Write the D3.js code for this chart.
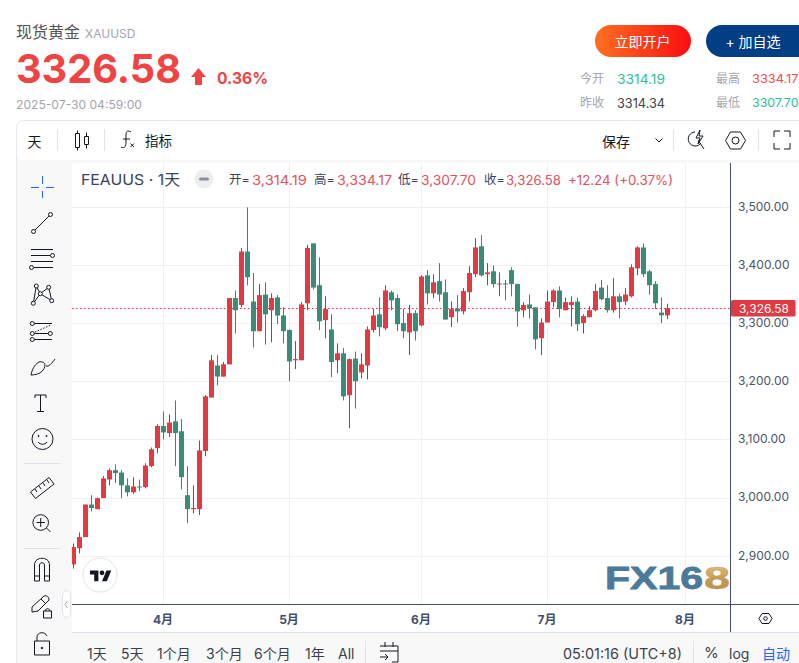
<!DOCTYPE html>
<html><head><meta charset="utf-8">
<script src="https://cdn.jsdelivr.net/npm/d3@7/dist/d3.min.js"></script>
<style>html,body{margin:0;padding:0;background:#fff;overflow:hidden}svg{display:block}text{font-family:Inter,"Noto Sans CJK SC",sans-serif}</style>
</head><body><svg id="c" width="799" height="663"></svg>
<script>
const opens=[2886,2914,2933,2989,2981,3000,3032,3048,3044,3022,3010,3020,3019,3055,3086,3124,3112,3132,3115,3005,2981,2981,3081,3173,3228,3209,3230,3344,3332,3424,3338,3287,3350,3323,3345,3314,3289,3237,3237,3335,3438,3366,3306,3290,3237,3249,3177,3240,3216,3228,3289,3316,3292,3354,3344,3301,3285,3318,3297,3383,3352,3373,3354,3311,3326,3321,3354,3385,3433,3385,3390,3368,3369,3392,3368,3323,3333,3328,3275,3302,3337,3357,3323,3332,3338,3301,3311,3323,3362,3344,3323,3347,3338,3347,3395,3431,3390,3368,3319,3314.19];
const highs=[2922,2941,2989,3005,3001,3038,3051,3058,3048,3034,3036,3032,3060,3087,3127,3149,3144,3168,3136,3055,3022,3099,3177,3246,3246,3234,3344,3357,3430,3500,3387,3368,3371,3352,3349,3328,3290,3270,3337,3435,3438,3414,3347,3316,3266,3258,3240,3252,3249,3295,3325,3345,3366,3357,3350,3325,3332,3323,3383,3392,3385,3404,3376,3338,3349,3361,3399,3447,3452,3404,3400,3388,3375,3397,3369,3337,3350,3328,3309,3357,3359,3364,3345,3347,3345,3316,3330,3368,3375,3366,3378,3352,3361,3402,3433,3438,3393,3373,3345,3334.17];
const lows=[2879,2905,2933,2977,2981,3000,3022,3026,3000,3003,3007,3012,3017,3053,3077,3101,3105,3055,3015,2957,2974,2971,3072,3173,3194,3209,3230,3283,3328,3366,3259,3287,3264,3268,3299,3266,3201,3222,3237,3323,3359,3289,3275,3208,3215,3168,3120,3154,3206,3204,3285,3278,3289,3323,3287,3275,3246,3271,3295,3333,3344,3338,3307,3294,3302,3316,3338,3380,3381,3366,3362,3347,3340,3347,3295,3311,3309,3256,3246,3302,3328,3311,3323,3295,3287,3283,3311,3321,3340,3319,3319,3309,3332,3345,3383,3380,3350,3325,3301,3307.70];
const closes=[2916,2933,2989,2983,3000,3034,3048,3043,3022,3010,3020,3019,3056,3084,3124,3113,3130,3112,3036,2981,2983,3082,3175,3237,3209,3230,3344,3323,3424,3380,3287,3349,3316,3344,3314,3287,3235,3239,3333,3430,3362,3304,3325,3234,3249,3175,3239,3201,3230,3290,3314,3294,3357,3340,3299,3287,3318,3287,3381,3352,3371,3350,3307,3325,3321,3356,3387,3431,3383,3388,3368,3369,3368,3368,3321,3332,3326,3273,3302,3338,3357,3325,3337,3337,3299,3313,3323,3356,3342,3323,3347,3337,3350,3397,3431,3385,3366,3335,3314.34,3326.58];
const monthTickIndex=[15,36,58,79,102];
const monthLabels=["4月","5月","6月","7月","8月"];
const priceTicks=[2900,3000,3100,3200,3300,3400,3500];
const lastPrice=3326.58;

const svg=d3.select("#c");
const RED="#e03b45",GREEN="#3a8c78",RW="#9f3b4e",GW="#4a8062",GRID="#f0f0f2",AX="#434e6b",PANEL="#f8f8f8";
const x=d3.scaleLinear().domain([0,102]).range([73.5,685.5]);
const y=d3.scaleLinear().domain([2900,3500]).range([556.3,207.3]);
function T(px,py,s,o={}){const t=svg.append("text").attr("x",px).attr("y",py).text(s)
 .attr("font-size",o.size||12).attr("fill",o.fill||"#333").attr("dominant-baseline","central");
 if(o.weight)t.attr("font-weight",o.weight);if(o.anchor)t.attr("text-anchor",o.anchor);
 if(o.len)t.attr("textLength",o.len).attr("lengthAdjust","spacingAndGlyphs");if(o.font)t.style("font-family",o.font);return t;}
function L(x1,y1,x2,y2,c,w){return svg.append("line").attr("x1",x1).attr("y1",y1).attr("x2",x2).attr("y2",y2).attr("stroke",c||"#131722").attr("stroke-width",w||1);}
function P(d,o={}){return svg.append("path").attr("d",d).attr("fill",o.fill||"none").attr("stroke",o.stroke===undefined?"#131722":o.stroke).attr("stroke-width",o.w||1);}
function C(cx,cy,r,o={}){return svg.append("circle").attr("cx",cx).attr("cy",cy).attr("r",r).attr("fill",o.fill||PANEL).attr("stroke",o.stroke||"#131722").attr("stroke-width",o.w||1);}
function R(a,b,w,h,f,r,s){const e=svg.append("rect").attr("x",a).attr("y",b).attr("width",w).attr("height",h).attr("fill",f);if(r)e.attr("rx",r);if(s)e.attr("stroke",s);return e;}

// gradients
const defs=svg.append("defs");
const g1=defs.append("linearGradient").attr("id","btn");g1.append("stop").attr("offset",0).attr("stop-color","#ff7020");g1.append("stop").attr("offset",1).attr("stop-color","#fb0d12");
const g2=defs.append("linearGradient").attr("id","gold").attr("x1",0).attr("y1",0).attr("x2",0).attr("y2",1);g2.append("stop").attr("offset",0).attr("stop-color","#e8cf9a");g2.append("stop").attr("offset",.55).attr("stop-color","#c39a55");g2.append("stop").attr("offset",1).attr("stop-color","#b98f45");
defs.append("clipPath").attr("id","plot").append("rect").attr("x",72).attr("y",163).attr("width",658).attr("height",441);

// header
T(16,32,"现货黄金",{size:16,fill:"#555"});
T(85,33,"XAUUSD",{size:12,fill:"#a4a4ac"});
T(16,68.5,"3326.58",{size:40,weight:700,fill:"#ee4444",len:165});
P("M198.5 68 L206 77 L202 77 L202 85 L195 85 L195 77 L191 77 Z",{fill:"#ee4444",stroke:"none"});
T(217,78,"0.36%",{size:16,weight:700,fill:"#ee4444",len:51});
T(16,104,"2025-07-30 04:59:00",{size:12,fill:"#a4a4ac",len:126});
R(595,25,96,32,"url(#btn)",16);T(642.5,41,"立即开户",{size:14,fill:"#fff",anchor:"middle"});
R(706,25,110,32,"#023e84",16);T(753,41,"+ 加自选",{size:14,fill:"#fff",anchor:"middle"});
T(580,78.5,"今开",{fill:"#a4a4ac"});T(617,78.5,"3314.19",{size:13,fill:"#2fbf97",len:48});
T(716,78.5,"最高",{fill:"#a4a4ac"});T(752,78.5,"3334.17",{size:12,fill:"#ee4e4e",len:46.5});
T(580,102.5,"昨收",{fill:"#a4a4ac"});T(617,102.5,"3314.34",{size:13,fill:"#444",len:48});
T(716,102.5,"最低",{fill:"#a4a4ac"});T(752,102.5,"3307.70",{size:12,fill:"#2fbf97",len:46.5});

// card
R(16.5,120.5,800,560,PANEL,7,"#e8e8ea");
R(17,121,800,39,"#fff",7);
R(72,163,658,441,"#fff",4);R(730,163,70,469,"#fff");R(72,604,658,28,"#fff");R(17,632,800,31,PANEL);

// top toolbar
T(34.5,141,"天",{size:14,fill:"#131722",anchor:"middle"});
[57.5,104.5,673.5,758.5].forEach(v=>L(v,129,v,151,"#e0e3eb"));
P("M75.5 133.5h4v14h-4zM77.5 130.5v3M77.5 147.5v3M84.5 136.5h4v8h-4zM86.5 132.5v4M86.5 144.5v4");
P("M121 147c4 2 5-1 5-5v-7c0-4 2-5 5-3M123 139h7M130.5 143.5l3.5 3.5m0-3.5l-3.5 3.5");
T(145,141,"指标",{size:13.5,fill:"#131722"});
T(602,141,"保存",{size:14,fill:"#131722"});
P("M655.5 138.5l3.5 3.5 3.5-3.5");
P("M695 132a7 7 0 1 0 6 11M698 140l6 9M700 130l-4 8h4l-2 6 5-8h-4z");
P("M725.5 140.5l5-8.5h10l5 8.5-5 8.5h-10z");C(735.5,140.5,3.5,{fill:"#fff"});
P("M774 137v-6h6M784 131h6v6M790 143v6h-6M780 149h-6v-6");

// plot
const gx=svg.append("g").attr("transform","translate(0,604.5)").call(d3.axisBottom(x).tickValues(monthTickIndex).tickFormat((d,i)=>monthLabels[i]).tickSize(0).tickPadding(9));
gx.select(".domain").remove();
gx.selectAll("text").attr("font-size",12).attr("font-weight",700).attr("fill","#434e6b").attr("dy","0.85em").attr("dx",-1);
const gridG=svg.append("g").attr("clip-path","url(#plot)");
gridG.selectAll("line.h").data(priceTicks).join("line").attr("class","h").attr("x1",72).attr("x2",730)
 .attr("y1",d=>Math.floor(y(d))+.5).attr("y2",d=>Math.floor(y(d))+.5).attr("stroke",GRID);
gridG.selectAll("line.v").data(monthTickIndex).join("line").attr("class","v").attr("y1",163).attr("y2",604)
 .attr("x1",d=>Math.floor(x(d))+.5).attr("x2",d=>Math.floor(x(d))+.5).attr("stroke",GRID);
L(72,Math.floor(y(lastPrice))+.5,730,Math.floor(y(lastPrice))+.5,"#e8303f",1).attr("stroke-dasharray","1.5 2.5");
const idx=d3.range(closes.length);
const cg=svg.append("g").attr("clip-path","url(#plot)");
const colr=i=>closes[i]>=opens[i]?RED:GREEN,wick=i=>closes[i]>=opens[i]?RW:GW;
cg.selectAll("line.w").data(idx).join("line").attr("class","w")
 .attr("x1",i=>Math.floor(x(i))+.5).attr("x2",i=>Math.floor(x(i))+.5)
 .attr("y1",i=>y(highs[i])).attr("y2",i=>y(lows[i])).attr("stroke",wick).attr("stroke-width",1);
cg.selectAll("rect").data(idx).join("rect")
 .attr("x",i=>Math.floor(x(i))-2).attr("width",5)
 .attr("y",i=>y(Math.max(opens[i],closes[i])))
 .attr("height",i=>Math.max(1,Math.abs(y(opens[i])-y(closes[i])))).attr("fill",colr);

// price axis
const gy=svg.append("g").attr("transform","translate(730.5,-1)").call(d3.axisRight(y).tickValues(priceTicks).tickFormat(d3.format(",.2f")).tickSize(0).tickPadding(7.5));
gy.select(".domain").remove();
gy.selectAll("text").attr("font-size",12).attr("fill","#4a5468");
L(730.5,163,730.5,632,AX);L(72,604.5,799,604.5,AX);L(72,632.5,799,632.5,"#e0e3eb");
R(731,300,64.5,16.5,"#e03b45",1.5);T(764,308,"3,326.58",{size:12,fill:"#fff",anchor:"middle"});
P("M759 618.5l3-5h7l3 5-3 5h-7z");C(765.5,618.5,1.8,{fill:"#fff"});

// legend
T(81,179,"FEAUUS · 1天",{size:15,fill:"#3a445a",len:99});
C(204,179,9,{fill:"#eeeeee",stroke:"#eeeeee"});R(199,177.5,10,3,"#8a8f9c",1.5);
[[229,"开="],[314,"高="],[398,"低="],[484,"收="]].forEach(d=>T(d[0],179.5,d[1],{size:12.5,fill:"#3a445a"}));
[[252,"3,314.19",55],[337,"3,334.17",55],[421,"3,307.70",55],[506,"3,326.58",55],[568,"+12.24 (+0.37%)",105]].forEach(d=>T(d[0],179.5,d[1],{size:13,fill:"#e0535c",len:d[2]}));

// left toolbar
L(42.5,176,42.5,184,"#2962ff");L(42.5,191,42.5,198,"#2962ff");L(31,187.5,39,187.5,"#2962ff");L(46,187.5,54,187.5,"#2962ff");
L(34,231,50,215);C(33.5,231.5,2);C(50.5,214.5,2);
[249.5,261.5].forEach(v=>L(31,v,53,v));L(31,255.5,50,255.5);L(34,267.5,53,267.5);C(52.5,255.5,2);C(31.5,267.5,2);
P("M33.3 303.3L36.3 286L40.3 293.7L48.7 287.3L51.7 300.7L40.3 293.7L33.3 303.3");
[[36.3,286],[48.7,287.3],[40.3,293.7],[33.3,303.3],[51.7,300.7]].forEach(d=>C(d[0],d[1],2));
L(34,323.5,52,323.5);L(34,333.5,49,333.5);L(34,339.5,52,339.5);L(35,332,51,325).attr("stroke-dasharray","1.5 1.5");
C(32.3,323.5,2);C(32.3,333.5,2);C(32.3,339.5,2);C(50.3,333.5,2);
P("M31 375c1-5 3-10 8-13 3-1 6 1 6 3 0 4-4 10-14 10zM46 366c3 1 6-3 9-7");
P("M35 398v-3h11v3M40.5 395v16.5M37 411.5h7");
C(42.5,439,10.5);C(38.5,436,.6,{fill:"#131722"});C(46.5,436,.6,{fill:"#131722"});P("M38 442c2 3 7 3 9 0");
L(24,463.5,60,463.5,"#e0e3eb");
P("M30.5 492L49 477.5L54 484L35.5 498.5ZM35 489l2 3M39 486l2 3M43 483l2 3M47 480l2 3");
C(40.7,522.5,7.8);P("M36.5 522.5h8.4M40.7 518v9M46.5 528l4 4");
L(24,548.5,60,548.5,"#e0e3eb");
P("M34.5 581v-16c0-9 15-9 15 0v16h-5v-16c0-3-5-3-5 0v16zM34.5 576h5M44.5 576h5");
P("M32 612v-5l12-11c3-1 5 1 5 4l-11 11-6 1zM41 599l5 5M43.5 615v-4h8v7h-8zM45 611c0-3 5-3 5 0");
P("M34.5 641h15v14h-15zM37 641v-4c0-5 8-6 10-1");C(42,648,.8,{fill:"#131722"});
R(62.5,590.5,8,27,"#fff",4,"#e0e3eb");P("M67.5 601l-2.5 3.5 2.5 3.5",{stroke:"#a0a5b0"});

// logos
C(100,575,17,{fill:"#fff",stroke:"#e0e3eb"});
svg.append("g").attr("transform","translate(90,568) scale(.6)").append("path").attr("d","M14 22H7V11H0V4h14v18zM28 22h-8l7.5-18h8L28 22z").attr("fill","#131722");
svg.append("circle").attr("cx",102).attr("cy",572.8).attr("r",2.4).attr("fill","#131722");
T(605,577.5,"FX16",{size:32,weight:700,fill:"#4c7a9b",len:98,font:'"Liberation Sans",sans-serif'}).attr("stroke","#4c7a9b").attr("stroke-width",.8);
T(704,577.5,"8",{size:32,weight:700,fill:"url(#gold)",len:26,font:'"Liberation Sans",sans-serif'}).attr("stroke","#c39a55").attr("stroke-width",.5);

// bottom bar
[[87,"1天"],[121,"5天"],[157,"1个月"],[206,"3个月"],[254,"6个月"],[305,"1年"],[338,"All"]].forEach(d=>T(d[0],653,d[1],{size:14,fill:"#3a3f4a"}));
L(365.5,641,365.5,663,"#e0e3eb");L(693.5,641,693.5,663,"#e0e3eb");
P("M380 646h18v16h-6M385 642v5M393 642v5M380 651h18M380 657h8M385 654l3 3-3 3");
T(563,653,"05:01:16 (UTC+8)",{size:14,fill:"#3a3f4a",len:119});
T(704,652,"%",{size:15,fill:"#3a3f4a"});T(729,653,"log",{size:14,fill:"#3a3f4a"});T(762,653,"自动",{size:14,fill:"#2962ff"});
</script></body></html>
